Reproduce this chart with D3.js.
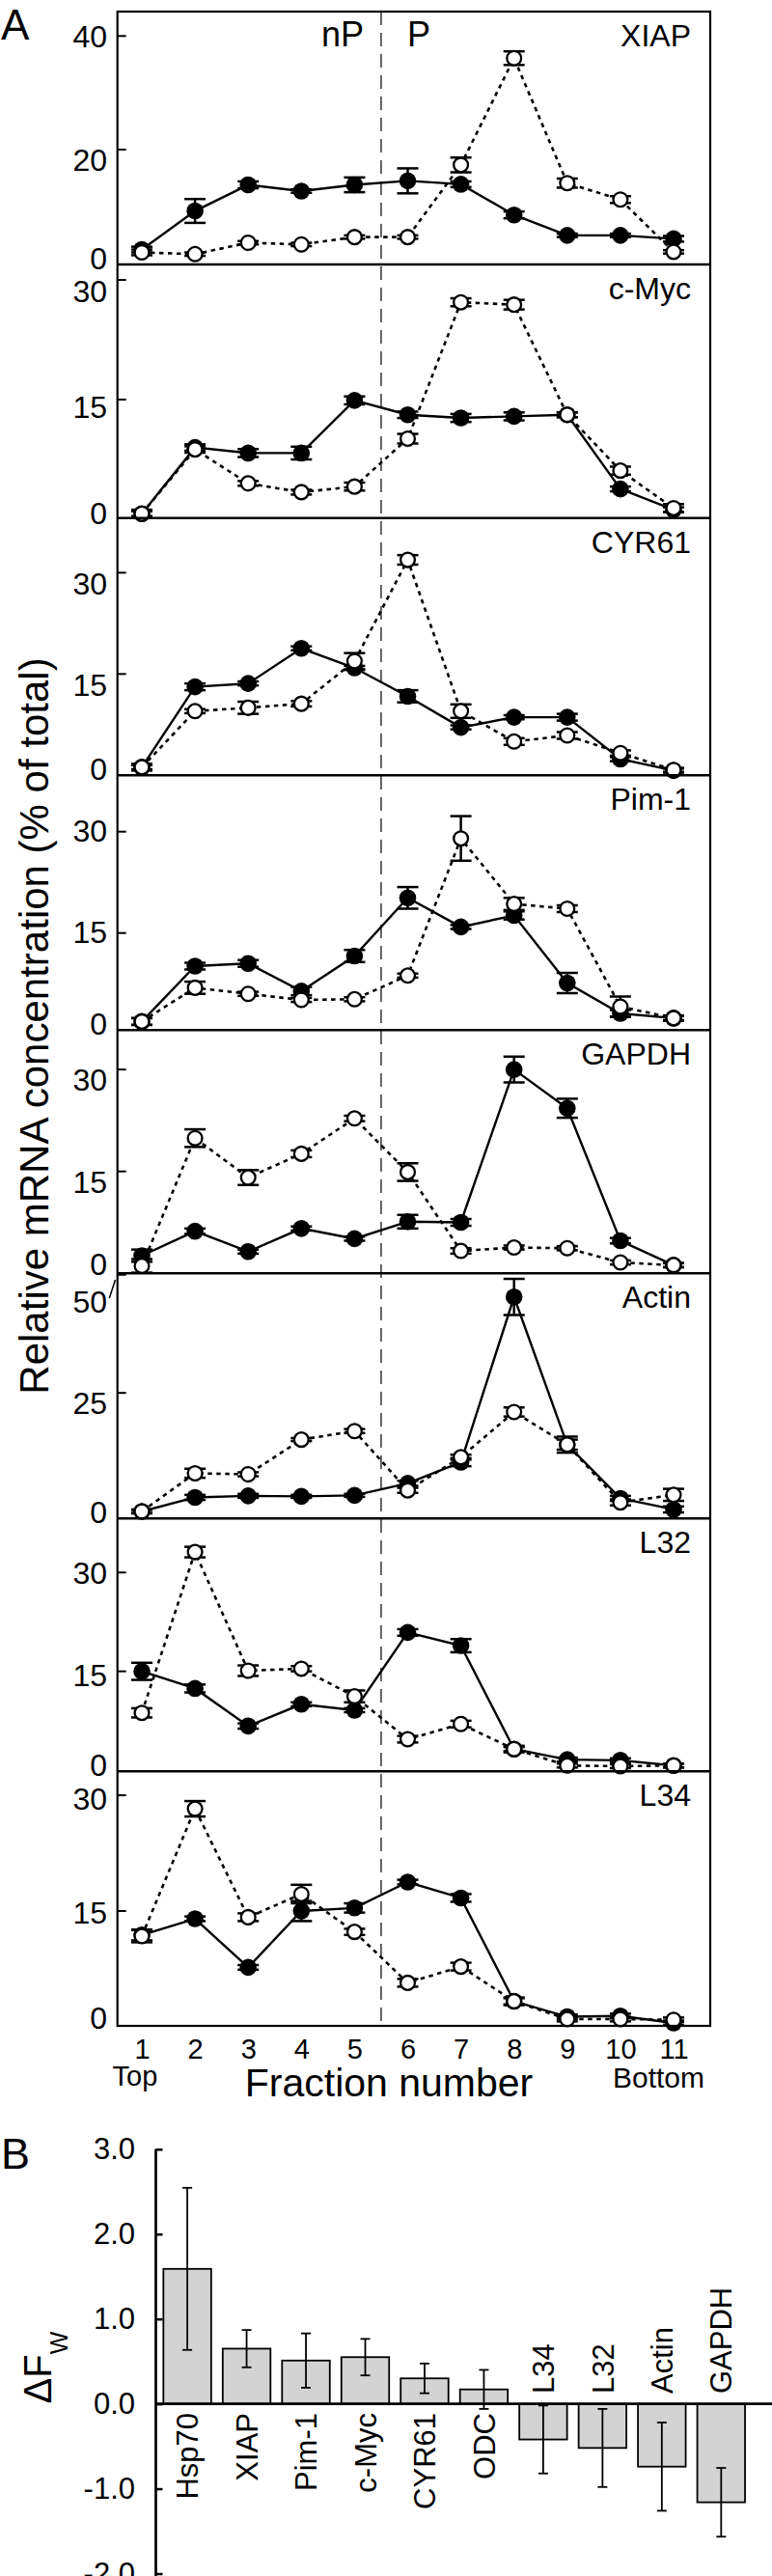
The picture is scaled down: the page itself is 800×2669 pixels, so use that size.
<!DOCTYPE html>
<html><head><meta charset="utf-8">
<script src="https://cdn.jsdelivr.net/npm/d3@7"></script>
<style>
body{margin:0;background:#fff}
svg{display:block}
text{font-family:"Liberation Sans",Arial,Helvetica,sans-serif;fill:#000}
</style>
</head><body>
<svg id="chart" width="800" height="2669"></svg>
<script>
// ---------------- DATA ----------------
const fractions = [1,2,3,4,5,6,7,8,9,10,11];
const panelNames = ["XIAP","c-Myc","CYR61","Pim-1","GAPDH","Actin","L32","L34"];
const panelTicks = [[0,20,40],[0,15,30],[0,15,30],[0,15,30],[0,15,30],[0,25,50],[0,15,30],[0,15,30]];

// filled circles (solid line) and open circles (dotted line), % of total
const xiapFilled     = [2.4,9.2,13.8,12.7,13.8,14.5,13.9,8.5,4.9,4.9,4.3];
const xiapFilledErr  = [0.5,2.1,0.6,0.3,1.3,2.2,0.5,0.6,0.3,0.3,0.5];
const xiapOpen       = [1.9,1.6,3.6,3.3,4.6,4.6,17.3,36.1,14.1,11.2,2.0];
const xiapOpenErr    = [0.5,0.3,0.3,0.3,0.3,0.3,1.3,1.2,0.8,0.6,0.3];

const mycFilled      = [0.7,9.0,8.3,8.3,14.9,13.1,12.7,12.9,13.1,3.8,1.2];
const mycFilledErr   = [0.3,0.4,0.5,0.8,0.5,0.4,0.5,0.5,0.3,0.3,0.3];
const mycOpen        = [0.7,8.75,4.5,3.4,4.1,10.1,27.2,26.9,13.1,6.1,1.4];
const mycOpenErr     = [0.5,0.4,0.3,0.3,0.5,0.6,0.5,0.6,0.3,0.5,0.5];

const cyrFilled      = [1.2,13.1,13.6,18.8,15.9,11.7,7.1,8.6,8.6,2.4,0.7];
const cyrFilledErr   = [0.3,0.5,0.3,0.3,0.3,0.9,0.3,0.3,0.5,0.3,0.3];
const cyrOpen        = [1.2,9.5,10.0,10.6,16.9,31.9,9.5,5.0,5.9,3.3,0.8];
const cyrOpenErr     = [0.5,0.3,0.9,0.4,1.2,0.7,1.0,0.5,0.5,0.4,0.3];

const pimFilled      = [1.9,10.1,10.5,6.4,11.6,20.2,15.9,17.6,7.6,3.1,2.4];
const pimFilledErr   = [0.5,0.5,0.5,0.6,0.9,1.6,0.3,0.6,1.5,0.5,0.3];
const pimOpen        = [1.9,6.9,6.0,5.1,5.2,8.7,29.0,19.3,18.6,4.1,2.4];
const pimOpenErr     = [0.5,0.9,0.3,0.3,0.3,0.3,3.3,0.9,0.5,1.5,0.4];

const gapdhFilled    = [2.6,6.2,3.2,6.6,5.1,7.6,7.5,30.0,24.3,4.8,1.2];
const gapdhFilledErr = [0.9,0.4,0.3,0.3,0.3,1.0,0.5,1.9,1.4,0.4,0.3];
const gapdhOpen      = [1.1,19.9,14.1,17.6,22.8,14.9,3.3,3.8,3.7,1.6,1.2];
const gapdhOpenErr   = [1.0,1.3,1.1,0.5,0.4,1.3,0.4,0.3,0.3,0.3,0.3];

const actinFilled    = [1.4,4.2,4.5,4.4,4.6,7.0,11.2,44.1,14.7,4.0,1.8];
const actinFilledErr = [0.3,0.5,0.4,0.3,0.3,0.5,0.8,3.6,1.6,0.5,0.6];
const actinOpen      = [1.4,9.0,8.8,15.7,17.4,5.6,12.2,21.2,14.7,3.2,4.7];
const actinOpenErr   = [0.4,0.9,0.4,0.3,0.4,0.5,0.5,0.9,1.0,0.6,1.2];

const l32Filled      = [15.0,12.4,6.7,10.0,9.1,20.9,18.9,3.2,1.6,1.5,0.7];
const l32FilledErr   = [1.3,0.6,0.4,0.3,0.3,0.5,1.0,0.3,0.3,0.3,0.3];
const l32Open        = [8.7,33.1,15.1,15.4,11.2,4.7,7.0,3.2,0.7,0.6,0.7];
const l32OpenErr     = [0.7,0.8,0.8,0.4,0.9,0.5,0.5,0.5,0.3,0.3,0.3];

const l34Filled      = [11.9,14.0,7.7,15.0,15.4,18.75,16.7,3.3,1.3,1.4,0.5];
const l34FilledErr   = [0.7,0.3,0.3,1.3,0.6,0.3,0.5,0.4,0.3,0.3,0.3];
const l34Open        = [11.75,28.25,14.2,17.2,12.3,5.7,7.8,3.3,1.0,1.0,0.9];
const l34OpenErr     = [0.8,1.0,0.5,1.2,0.4,0.5,0.5,0.5,0.3,0.3,0.3];

// panel B
const genes   = ["Hsp70","XIAP","Pim-1","c-Myc","CYR61","ODC","L34","L32","Actin","GAPDH"];
const deltaFw = [1.59,0.65,0.51,0.55,0.30,0.17,-0.42,-0.52,-0.74,-1.16];
const deltaFwErr = [0.955,0.22,0.32,0.215,0.175,0.23,0.40,0.46,0.52,0.405];
const bTicks = [-2,-1,0,1,2,3];

// ---------------- LAYOUT ----------------
const seriesByPanel = {
  "XIAP":[xiapFilled,xiapFilledErr,xiapOpen,xiapOpenErr],
  "c-Myc":[mycFilled,mycFilledErr,mycOpen,mycOpenErr],
  "CYR61":[cyrFilled,cyrFilledErr,cyrOpen,cyrOpenErr],
  "Pim-1":[pimFilled,pimFilledErr,pimOpen,pimOpenErr],
  "GAPDH":[gapdhFilled,gapdhFilledErr,gapdhOpen,gapdhOpenErr],
  "Actin":[actinFilled,actinFilledErr,actinOpen,actinOpenErr],
  "L32":[l32Filled,l32FilledErr,l32Open,l32OpenErr],
  "L34":[l34Filled,l34FilledErr,l34Open,l34OpenErr]
};
const frameL = 121.7, frameR = 736;
const bounds = [12,274,536.7,803.3,1067.3,1319.3,1573.3,1835.3,2099];
const domains = [[-0.22,44.3],[0.16,31.94],[0,38.1],[0.63,38.34],[0,35.8],[0,48.8],[-0.18,38.2],[0.12,33.1]];
const labelOffset = {
  "XIAP":{40:12,20:22,0:6}, "c-Myc":{30:23,15:19,0:5}, "CYR61":{30:23,15:23,0:5},
  "Pim-1":{30:10,15:10,0:0}, "GAPDH":{30:22,15:22,0:2}, "Actin":{50:39,25:22,0:5},
  "L32":{30:12,15:15,0:6}, "L34":{30:15,15:13,0:2}
};

const svg = d3.select("#chart");
const x = d3.scaleLinear().domain([1,11]).range([147,698]);

const gA = svg.append("g");

panelNames.forEach((name,i) => {
  const top = bounds[i], bot = bounds[i+1];
  const y = d3.scaleLinear().domain(domains[i]).range([bot, top]);
  const [fv, fe, ov, oe] = seriesByPanel[name];
  const g = gA.append("g");

  // y axis
  const ax = g.append("g").attr("transform",`translate(${frameL},0)`)
    .call(d3.axisLeft(y).tickValues(panelTicks[i]).tickSizeInner(-9).tickSizeOuter(0).tickPadding(10.7));
  ax.select(".domain").remove();
  ax.selectAll(".tick").each(function(v){
    const t = d3.select(this);
    const ty = Math.max(top + 1.5, y(v));
    t.attr("transform",`translate(0,${ty})`);
    t.select("line").attr("stroke","#000").attr("stroke-width",2).attr("opacity", v===0?0:1);
    t.select("text").attr("dy",null).attr("y",labelOffset[name][v]).attr("font-size",32)
      .attr("font-family",'"Liberation Sans",Arial,sans-serif').attr("fill","#000");
  });
  ax.attr("font-size",32);

  // panel label
  g.append("text").attr("x",716).attr("y",top+36).attr("text-anchor","end")
    .attr("font-size",32).text(name);

  const line = d3.line().x((d,j)=>x(fractions[j])).y(d=>y(d));
  // dotted (open) line
  g.append("path").datum(ov).attr("d",line).attr("fill","none").attr("stroke","#000")
    .attr("stroke-width",2.6).attr("stroke-dasharray","4.5,4.5");
  // solid (filled) line
  g.append("path").datum(fv).attr("d",line).attr("fill","none").attr("stroke","#000")
    .attr("stroke-width",2.4);

  const drawErr = (vals, errs) => {
    const eg = g.append("g").attr("stroke","#000").attr("stroke-width",2.5);
    vals.forEach((v,j) => {
      const cx = x(fractions[j]), y1 = y(v+errs[j]), y2 = y(v-errs[j]);
      eg.append("line").attr("x1",cx).attr("x2",cx).attr("y1",y1).attr("y2",y2);
      eg.append("line").attr("x1",cx-11).attr("x2",cx+11).attr("y1",y1).attr("y2",y1);
      eg.append("line").attr("x1",cx-11).attr("x2",cx+11).attr("y1",y2).attr("y2",y2);
    });
  };
  drawErr(fv, fe);
  drawErr(ov, oe);

  g.append("g").selectAll("circle").data(fv).join("circle")
    .attr("cx",(d,j)=>x(fractions[j])).attr("cy",d=>y(d)).attr("r",8.8).attr("fill","#000");
  g.append("g").selectAll("circle").data(ov).join("circle")
    .attr("cx",(d,j)=>x(fractions[j])).attr("cy",d=>y(d)).attr("r",7.4)
    .attr("fill","#fff").attr("stroke","#000").attr("stroke-width",2.3);

  if (name === "Actin") {
    g.append("line").attr("x1",113.3).attr("y1",1345).attr("x2",119.5).attr("y2",1326)
      .attr("stroke","#000").attr("stroke-width",1.5);
  }
});

// dashed divider between nP and P
gA.append("line").attr("x1",x(5.5)).attr("x2",x(5.5)).attr("y1",bounds[0]).attr("y2",bounds[8])
  .attr("stroke","#000").attr("stroke-width",1.2).attr("stroke-dasharray","14,8");

// separators and frame
gA.append("g").selectAll("line").data(bounds.slice(1,8)).join("line")
  .attr("x1",frameL).attr("x2",frameR).attr("y1",d=>d).attr("y2",d=>d)
  .attr("stroke","#000").attr("stroke-width",2.6);
gA.append("rect").attr("x",frameL).attr("y",bounds[0]).attr("width",frameR-frameL)
  .attr("height",bounds[8]-bounds[0]).attr("fill","none").attr("stroke","#000").attr("stroke-width",2.2);

// nP / P
gA.append("text").attr("x",377).attr("y",48).attr("text-anchor","end").attr("font-size",36).text("nP");
gA.append("text").attr("x",422).attr("y",48).attr("font-size",36).text("P");

// x axis
const xa = gA.append("g").attr("transform",`translate(0,${bounds[8]})`)
  .call(d3.axisBottom(x).tickValues(fractions).tickSize(0).tickPadding(13.4));
xa.select(".domain").remove();
xa.selectAll("text").attr("font-size",29).attr("font-family",'"Liberation Sans",Arial,sans-serif').attr("fill","#000");

gA.append("text").attr("x",140).attr("y",2161).attr("text-anchor","middle").attr("font-size",29).text("Top");
gA.append("text").attr("x",682.5).attr("y",2163).attr("text-anchor","middle").attr("font-size",30).text("Bottom");
gA.append("text").attr("x",403).attr("y",2172).attr("text-anchor","middle").attr("font-size",41).text("Fraction number");

gA.append("text").attr("transform","translate(50,1063) rotate(-90)").attr("text-anchor","middle")
  .attr("font-size",42).text("Relative mRNA concentration (% of total)");

svg.append("text").attr("x",1).attr("y",41).attr("font-size",44).text("A");
svg.append("text").attr("x",1).attr("y",2247).attr("font-size",45).text("B");

// ---------------- PANEL B ----------------
const gB = svg.append("g");
const axisXB = 161.5;
const yB = d3.scaleLinear().domain([-2,3]).range([2666.5,2226.8]);
const xB = d3.scaleBand().domain(genes).range([163.2,778.2]).paddingInner(0.195).paddingOuter(0.1);

const bAx = gB.append("g").attr("transform",`translate(${axisXB},0)`)
  .call(d3.axisLeft(yB).tickValues(bTicks).tickFormat(d=>d.toFixed(1)).tickSizeInner(-7).tickSizeOuter(0).tickPadding(21.5));
bAx.select(".domain").remove();
bAx.selectAll("line").attr("stroke","#000").attr("stroke-width",2.5);
bAx.selectAll("text").attr("font-size",31).attr("font-family",'"Liberation Sans",Arial,sans-serif').attr("fill","#000");
gB.append("line").attr("x1",axisXB).attr("x2",axisXB).attr("y1",yB(3)).attr("y2",2669)
  .attr("stroke","#000").attr("stroke-width",2.7);

// bars
gB.append("g").selectAll("rect").data(genes).join("rect")
  .attr("x",d=>xB(d)).attr("width",xB.bandwidth())
  .attr("y",(d,i)=>yB(Math.max(0,deltaFw[i])))
  .attr("height",(d,i)=>Math.abs(yB(deltaFw[i])-yB(0)))
  .attr("fill","#d3d3d3").attr("stroke","#000").attr("stroke-width",1.8);

// zero line
gB.append("line").attr("x1",axisXB).attr("x2",800).attr("y1",yB(0)).attr("y2",yB(0))
  .attr("stroke","#000").attr("stroke-width",2.7);

// error bars
const ebB = gB.append("g").attr("stroke","#000").attr("stroke-width",1.8);
genes.forEach((gname,i) => {
  const cx = xB(gname)+xB.bandwidth()/2;
  const y1 = yB(deltaFw[i]+deltaFwErr[i]), y2 = yB(deltaFw[i]-deltaFwErr[i]);
  ebB.append("line").attr("x1",cx).attr("x2",cx).attr("y1",y1).attr("y2",y2);
  ebB.append("line").attr("x1",cx-5).attr("x2",cx+5).attr("y1",y1).attr("y2",y1);
  ebB.append("line").attr("x1",cx-5).attr("x2",cx+5).attr("y1",y2).attr("y2",y2);
});

// category labels
gB.append("g").selectAll("text").data(genes).join("text")
  .attr("transform",(d,i)=>`translate(${xB(d)+xB.bandwidth()/2},${deltaFw[i]>=0?2500:2480}) rotate(-90)`)
  .attr("text-anchor",(d,i)=>deltaFw[i]>=0?"end":"start")
  .attr("dy","0.36em").attr("font-size",31).text(d=>d);

// y title ΔFw
const yt = gB.append("text").attr("transform","translate(53,2453) rotate(-90)").attr("text-anchor","middle");
yt.append("tspan").attr("font-size",40).text("ΔF");
yt.append("tspan").attr("font-size",25).attr("dy",17).text("W");
</script>
</body></html>
